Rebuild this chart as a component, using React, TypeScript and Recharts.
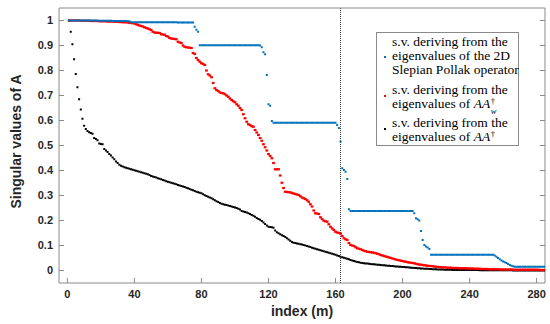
import React from 'react'
import {
  ScatterChart,
  Scatter,
  XAxis,
  YAxis,
  ReferenceLine,
} from 'recharts'

// singular values, index m = 1..285
const SLEPIAN = [
  1, 1, 1, 1, 1, 1, 1, 1, 1, 1,
  1, 1, 1, 1, 1, 1, 1, 1, 0.999, 0.999,
  0.999, 0.999, 0.999, 0.999, 0.999, 0.999, 0.998, 0.998, 0.998, 0.998,
  0.998, 0.998, 0.998, 0.998, 0.998, 0.997, 0.997, 0.993, 0.993, 0.993,
  0.993, 0.993, 0.993, 0.993, 0.993, 0.993, 0.993, 0.993, 0.993, 0.993,
  0.993, 0.993, 0.993, 0.993, 0.993, 0.993, 0.993, 0.993, 0.993, 0.993,
  0.993, 0.993, 0.993, 0.993, 0.993, 0.992, 0.992, 0.992, 0.992, 0.992,
  0.992, 0.992, 0.992, 0.992, 0.992, 0.975, 0.963, 0.955, 0.901, 0.901,
  0.901, 0.901, 0.901, 0.901, 0.901, 0.901, 0.901, 0.901, 0.901, 0.901,
  0.901, 0.901, 0.901, 0.901, 0.901, 0.901, 0.901, 0.901, 0.901, 0.901,
  0.901, 0.901, 0.901, 0.901, 0.901, 0.901, 0.901, 0.901, 0.901, 0.901,
  0.901, 0.901, 0.901, 0.901, 0.9, 0.893, 0.873, 0.865, 0.782, 0.665,
  0.659, 0.598, 0.591, 0.591, 0.591, 0.591, 0.591, 0.591, 0.591, 0.591,
  0.591, 0.591, 0.591, 0.591, 0.591, 0.591, 0.591, 0.591, 0.591, 0.591,
  0.591, 0.591, 0.591, 0.591, 0.591, 0.591, 0.591, 0.591, 0.591, 0.591,
  0.591, 0.591, 0.591, 0.591, 0.591, 0.591, 0.591, 0.591, 0.591, 0.591,
  0.582, 0.57, 0.515, 0.409, 0.402, 0.395, 0.366, 0.245, 0.238, 0.238,
  0.238, 0.238, 0.238, 0.238, 0.238, 0.238, 0.238, 0.238, 0.238, 0.238,
  0.238, 0.238, 0.238, 0.238, 0.238, 0.238, 0.238, 0.238, 0.238, 0.238,
  0.238, 0.238, 0.238, 0.238, 0.238, 0.238, 0.238, 0.238, 0.238, 0.238,
  0.238, 0.238, 0.238, 0.238, 0.238, 0.238, 0.229, 0.209, 0.205, 0.2,
  0.158, 0.122, 0.102, 0.096, 0.092, 0.086, 0.063, 0.063, 0.063, 0.063,
  0.063, 0.063, 0.063, 0.063, 0.063, 0.063, 0.063, 0.063, 0.063, 0.063,
  0.063, 0.063, 0.063, 0.063, 0.063, 0.063, 0.063, 0.063, 0.063, 0.063,
  0.063, 0.063, 0.063, 0.063, 0.063, 0.063, 0.063, 0.063, 0.063, 0.063,
  0.063, 0.063, 0.063, 0.063, 0.06, 0.055, 0.05, 0.045, 0.04, 0.036,
  0.033, 0.03, 0.026, 0.022, 0.019, 0.017, 0.015, 0.015, 0.015, 0.015,
  0.015, 0.015, 0.015, 0.015, 0.015, 0.015, 0.015, 0.015, 0.015, 0.015,
  0.015, 0.015, 0.015, 0.015, 0.015,
]

const AAW = [
  1, 1, 1, 1, 1, 1, 1, 0.999, 0.999, 0.999,
  0.999, 0.999, 0.999, 0.998, 0.998, 0.998, 0.998, 0.998, 0.997, 0.997,
  0.997, 0.997, 0.997, 0.996, 0.996, 0.996, 0.996, 0.995, 0.995, 0.995,
  0.994, 0.994, 0.993, 0.993, 0.993, 0.992, 0.991, 0.99, 0.989, 0.988,
  0.985, 0.983, 0.98, 0.978, 0.976, 0.973, 0.97, 0.968, 0.965, 0.962,
  0.955, 0.952, 0.951, 0.951, 0.95, 0.945, 0.944, 0.943, 0.938, 0.936,
  0.93, 0.928, 0.927, 0.926, 0.925, 0.915, 0.912, 0.91, 0.9, 0.895,
  0.893, 0.892, 0.891, 0.89, 0.87, 0.866, 0.85, 0.842, 0.835, 0.829,
  0.826, 0.822, 0.8, 0.785, 0.78, 0.773, 0.75, 0.729, 0.722, 0.718,
  0.712, 0.71, 0.709, 0.705, 0.7, 0.695, 0.688, 0.682, 0.677, 0.673,
  0.665, 0.659, 0.65, 0.642, 0.625, 0.609, 0.595, 0.585, 0.582, 0.577,
  0.575, 0.562, 0.552, 0.542, 0.53, 0.519, 0.505, 0.493, 0.48, 0.466,
  0.458, 0.449, 0.43, 0.405, 0.405, 0.405, 0.38, 0.351, 0.33, 0.315,
  0.314, 0.313, 0.313, 0.31, 0.308, 0.306, 0.304, 0.302, 0.297, 0.292,
  0.289, 0.286, 0.281, 0.275, 0.265, 0.256, 0.24, 0.229, 0.228, 0.226,
  0.213, 0.206, 0.199, 0.197, 0.195, 0.185, 0.175, 0.168, 0.162, 0.155,
  0.152, 0.15, 0.148, 0.138, 0.129, 0.125, 0.122, 0.11, 0.102, 0.1,
  0.098, 0.093, 0.089, 0.087, 0.085, 0.082, 0.079, 0.077, 0.075, 0.074,
  0.073, 0.072, 0.071, 0.069, 0.067, 0.065, 0.062, 0.06, 0.058, 0.056,
  0.054, 0.052, 0.05, 0.048, 0.046, 0.044, 0.042, 0.041, 0.039, 0.038,
  0.036, 0.035, 0.033, 0.032, 0.031, 0.03, 0.029, 0.027, 0.025, 0.024,
  0.023, 0.022, 0.021, 0.02, 0.019, 0.018, 0.018, 0.017, 0.016, 0.015,
  0.014, 0.014, 0.013, 0.013, 0.012, 0.012, 0.011, 0.011, 0.011, 0.01,
  0.01, 0.01, 0.01, 0.009, 0.009, 0.009, 0.009, 0.009, 0.008, 0.008,
  0.008, 0.008, 0.007, 0.007, 0.007, 0.007, 0.006, 0.006, 0.006, 0.006,
  0.006, 0.005, 0.005, 0.005, 0.005, 0.005, 0.005, 0.004, 0.004, 0.004,
  0.004, 0.004, 0.004, 0.004, 0.004, 0.003, 0.003, 0.003, 0.003, 0.003,
  0.003, 0.003, 0.003, 0.003, 0.003, 0.003, 0.003, 0.003, 0.003, 0.003,
  0.003, 0.002, 0.002, 0.002, 0.002,
]

const AA = [
  1, 0.955, 0.905, 0.845, 0.786, 0.733, 0.685, 0.644, 0.607, 0.579,
  0.566, 0.558, 0.553, 0.55, 0.547, 0.53, 0.526, 0.521, 0.508, 0.506,
  0.505, 0.486, 0.48, 0.474, 0.466, 0.46, 0.452, 0.445, 0.436, 0.43,
  0.423, 0.419, 0.416, 0.413, 0.411, 0.409, 0.407, 0.405, 0.403, 0.401,
  0.399, 0.397, 0.395, 0.393, 0.391, 0.389, 0.387, 0.385, 0.382, 0.378,
  0.376, 0.374, 0.372, 0.369, 0.367, 0.365, 0.362, 0.36, 0.357, 0.355,
  0.353, 0.351, 0.349, 0.347, 0.345, 0.342, 0.34, 0.338, 0.336, 0.334,
  0.331, 0.329, 0.326, 0.323, 0.321, 0.318, 0.315, 0.313, 0.311, 0.309,
  0.305, 0.301, 0.298, 0.295, 0.292, 0.289, 0.285, 0.281, 0.277, 0.274,
  0.27, 0.267, 0.265, 0.263, 0.262, 0.26, 0.258, 0.256, 0.254, 0.252,
  0.25, 0.247, 0.244, 0.238, 0.236, 0.234, 0.232, 0.229, 0.226, 0.222,
  0.219, 0.215, 0.21, 0.206, 0.203, 0.198, 0.192, 0.186, 0.18, 0.175,
  0.174, 0.173, 0.171, 0.16, 0.153, 0.149, 0.145, 0.141, 0.138, 0.134,
  0.129, 0.124, 0.119, 0.114, 0.111, 0.11, 0.108, 0.107, 0.105, 0.104,
  0.102, 0.1, 0.098, 0.096, 0.094, 0.091, 0.089, 0.087, 0.085, 0.083,
  0.081, 0.079, 0.077, 0.075, 0.073, 0.071, 0.069, 0.067, 0.065, 0.063,
  0.06, 0.058, 0.055, 0.053, 0.051, 0.049, 0.047, 0.045, 0.042, 0.04,
  0.038, 0.036, 0.034, 0.033, 0.031, 0.03, 0.029, 0.028, 0.028, 0.027,
  0.026, 0.025, 0.025, 0.024, 0.023, 0.023, 0.022, 0.021, 0.021, 0.02,
  0.019, 0.019, 0.018, 0.018, 0.017, 0.016, 0.016, 0.015, 0.015, 0.014,
  0.014, 0.013, 0.013, 0.012, 0.011, 0.011, 0.01, 0.01, 0.009, 0.009,
  0.008, 0.008, 0.007, 0.007, 0.007, 0.006, 0.006, 0.005, 0.005, 0.005,
  0.004, 0.004, 0.004, 0.004, 0.003, 0.003, 0.003, 0.003, 0.003, 0.002,
  0.002, 0.002, 0.002, 0.002, 0.002, 0.002, 0.002, 0.002, 0.002, 0.002,
  0.002, 0.002, 0.002, 0.002, 0.002, 0.001, 0.001, 0.001, 0.001, 0.001,
  0.001, 0.001, 0.001, 0.001, 0.001, 0.001, 0.001, 0.001, 0.001, 0.001,
  0.001, 0.001, 0.001, 0.001, 0.001, 0, 0, 0, 0, 0,
  0, 0, 0, 0, 0, 0, 0, 0, 0, 0,
  0, 0, 0, 0, 0,
]

const X_TICKS = [0, 40, 80, 120, 160, 200, 240, 280]
const Y_TICKS = [0, 0.1, 0.2, 0.3, 0.4, 0.5, 0.6, 0.7, 0.8, 0.9, 1]
const X_DOMAIN = [-5, 285]
const Y_DOMAIN = [-0.05, 1.05]
const CUTOFF = 163

const BLUE = '#0072BD'
const RED = '#FF0000'
const BLACK = '#000000'
const AXIS = '#8a8a8a'
const SANS = '"Liberation Sans", Arial, sans-serif'
const SERIF = '"Liberation Serif", "Times New Roman", serif'

const toPoints = (vals: number[]) => vals.map((v, i) => ({ x: i + 1, y: v }))

const dot = (color: string, w: number, h: number) => (p: any) => (
  <rect x={p.cx - w / 2} y={p.cy - h / 2} width={w} height={h} fill={color} />
)

const tickStyle = { fill: '#262626', fontSize: 11, fontWeight: 'bold', fontFamily: SANS }

const YTitle = (props: any) => {
  const vb = props.viewBox
  const cx = vb.x + 16
  const cy = vb.y + vb.height / 2 - 4
  return (
    <text
      x={cx}
      y={cy}
      transform={`rotate(-90 ${cx} ${cy})`}
      textAnchor="middle"
      dominantBaseline="central"
      fill="#262626"
      fontSize={14}
      fontWeight="bold"
      fontFamily={SANS}
    >
      Singular values of A
    </text>
  )
}

const legendRow: React.CSSProperties = { position: 'relative', paddingLeft: 15 }
const legendDot = (color: string, top: number): React.CSSProperties => ({
  position: 'absolute',
  left: 7,
  top,
  width: 2,
  height: 2,
  background: color,
})
// zero-height box sitting on the baseline; scripts are placed relative to it
const scriptBox: React.CSSProperties = {
  display: 'inline-block',
  position: 'relative',
  width: 7,
  height: 0,
}
const script = (top: number, italic = false): React.CSSProperties => ({
  position: 'absolute',
  left: 0.5,
  top,
  fontSize: 8.5,
  lineHeight: '8px',
  fontStyle: italic ? 'italic' : 'normal',
})

export default function App() {
  return (
    <div style={{ position: 'relative', width: 550, height: 324 }}>
      <style>{'body{margin:0}'}</style>
      <ScatterChart width={550} height={324} margin={{ top: 0, right: 0, bottom: 0, left: 0 }}>
        <XAxis
          type="number"
          dataKey="x"
          domain={X_DOMAIN}
          ticks={X_TICKS}
          height={41}
          tick={tickStyle}
          tickSize={-5}
          tickMargin={12}
          axisLine={{ stroke: AXIS }}
          tickLine={{ stroke: AXIS }}
          allowDataOverflow
          label={{
            value: 'index (m)',
            position: 'insideBottom',
            offset: 8,
            style: { fill: '#262626', fontSize: 14, fontWeight: 'bold', fontFamily: SANS },
          }}
        />
        <XAxis
          xAxisId="top"
          orientation="top"
          type="number"
          domain={X_DOMAIN}
          ticks={X_TICKS}
          height={8}
          tickFormatter={() => ''}
          tickSize={-5}
          axisLine={{ stroke: AXIS }}
          tickLine={{ stroke: AXIS }}
          allowDataOverflow
        />
        <YAxis
          type="number"
          dataKey="y"
          domain={Y_DOMAIN}
          ticks={Y_TICKS}
          width={59}
          tick={tickStyle}
          tickSize={-5}
          tickMargin={11}
          axisLine={{ stroke: AXIS }}
          tickLine={{ stroke: AXIS }}
          allowDataOverflow
          label={<YTitle />}
        />
        <YAxis
          yAxisId="right"
          orientation="right"
          type="number"
          domain={Y_DOMAIN}
          ticks={Y_TICKS}
          width={5}
          tickFormatter={() => ''}
          tickSize={-5}
          axisLine={{ stroke: AXIS }}
          tickLine={{ stroke: AXIS }}
          allowDataOverflow
        />
        <ReferenceLine x={CUTOFF} stroke="#333" strokeDasharray="1 1" />
        <Scatter data={toPoints(AA)} shape={dot(BLACK, 2, 2)} isAnimationActive={false} />
        <Scatter data={toPoints(AAW)} shape={dot(RED, 2.8, 2.2)} isAnimationActive={false} />
        <Scatter data={toPoints(SLEPIAN)} shape={dot(BLUE, 2, 2)} isAnimationActive={false} />
      </ScatterChart>

      <div
        style={{
          position: 'absolute',
          left: 376,
          top: 32,
          width: 141,
          height: 112,
          border: '1px solid #8a8a8a',
          background: '#fff',
          fontFamily: SERIF,
          fontSize: 13.5,
          lineHeight: '14px',
          color: '#000',
          boxSizing: 'content-box',
          whiteSpace: 'nowrap',
        }}
      >
        <div style={{ ...legendRow, marginTop: 2 }}>
          <span style={legendDot(BLUE, 21)} />
          s.v. deriving from the
          <br />
          eigenvalues of the 2D
          <br />
          Slepian Pollak operator
        </div>
        <div style={{ ...legendRow, marginTop: 6 }}>
          <span style={legendDot(RED, 12)} />
          s.v. deriving from the
          <br />
          eigenvalues of <i>AA</i>
          <span style={scriptBox}>
            <span style={script(-11)}>†</span>
            <span style={script(-1.5, true)}>w</span>
          </span>
        </div>
        <div style={{ ...legendRow, marginTop: 5 }}>
          <span style={legendDot(BLACK, 12)} />
          s.v. deriving from the
          <br />
          eigenvalues of <i>AA</i>
          <span style={scriptBox}>
            <span style={script(-11)}>†</span>
          </span>
        </div>
      </div>
    </div>
  )
}
